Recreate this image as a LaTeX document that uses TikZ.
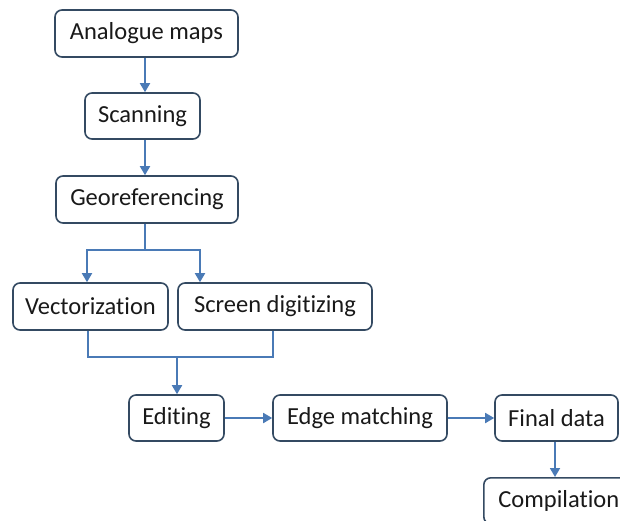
\documentclass[tikz,border=0pt]{standalone}
\usepackage{fontspec}
\setmainfont{Carlito}[Ligatures={NoCommon,NoRequired}]
\usetikzlibrary{arrows.meta}
\definecolor{boxline}{RGB}{52,74,98}
\definecolor{arrowblue}{RGB}{74,122,182}
\begin{document}
\begin{tikzpicture}[x=1pt,y=-1pt,
  stepbox/.style={draw=boxline,line width=1.6pt,rounded corners=7pt,fill=white,inner sep=0pt,font=\fontsize{24.5}{27}\selectfont,text=black!90},
  conn/.style={draw=arrowblue,line width=1.8pt},
  arr/.style={conn,-{Triangle[length=9pt,width=10pt]}}]
\useasboundingbox (0,0) rectangle (620,520);
\clip (0,0) rectangle (620,520);
\node[stepbox,minimum width=183pt,minimum height=47pt] (am) at (146.5,33.5) {Analogue maps};
\node[stepbox,minimum width=115pt,minimum height=46pt] (sc) at (142.5,116) {Scanning};
\node[stepbox,minimum width=182pt,minimum height=47pt] (ge) at (147,199.5) {Georeferencing};
\node[stepbox,minimum width=155pt,minimum height=47pt] (ve) at (90.5,306.5) {Vectorization};
\node[stepbox,minimum width=194pt,minimum height=47pt] (sd) at (275,306.5) {Screen digitizing};
\node[stepbox,minimum width=95pt,minimum height=46pt] (ed) at (176.5,418) {Editing};
\node[stepbox,minimum width=174pt,minimum height=46pt] (em) at (360,418) {Edge matching};
\node[stepbox,minimum width=123pt,minimum height=46pt] (fd) at (556.5,418) {Final data};
\node[stepbox,minimum width=150pt,minimum height=46pt,anchor=north west] (co) at (483,477) {Compilation\hspace{13pt}};
\coordinate (g1) at (145,250);
\coordinate (g2) at (87,250);
\coordinate (g3) at (200,250);
\coordinate (v1) at (88,357);
\coordinate (v2) at (273,357);
\coordinate (v3) at (177,357);
\draw[arr] (am.south -| 145,0) -- (sc.north -| 145,0);
\draw[arr] (sc.south -| 145,0) -- (ge.north -| 145,0);
\draw[conn] (ge.south -| g1) -- (g1);
\draw[arr] (g1) -- (g2) -- (ve.north -| g2);
\draw[arr] (g1) -- (g3) -- (sd.north -| g3);
\draw[conn] (ve.south -| v1) -- (v1) -- (v2) -- (sd.south -| v2);
\draw[arr] (v3) -- (ed.north -| v3);
\draw[arr] (ed) -- (em);
\draw[arr] (em) -- (fd);
\draw[arr] (fd.south -| 555,0) -- (co.north -| 555,0);
\end{tikzpicture}
\end{document}
